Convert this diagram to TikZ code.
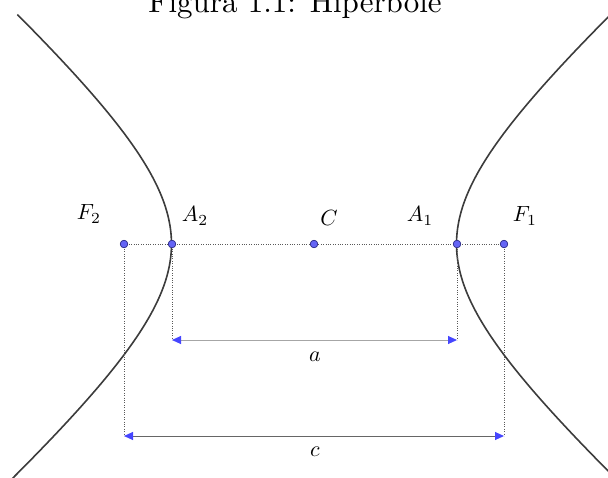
\documentclass[tikz,border=0pt]{standalone}
\usetikzlibrary{arrows.meta}
\definecolor{ptfill}{RGB}{100,100,245}
\definecolor{ptedge}{RGB}{50,50,140}
\definecolor{tipblue}{RGB}{70,70,255}
\definecolor{curve}{RGB}{60,60,60}
\tikzset{
  pt/.style={circle, fill=ptfill, draw=ptedge, line width=0.6pt, inner sep=0pt, minimum size=7.5pt},
  lbl/.style={scale=2.2, transform shape, inner sep=0pt},
  guide/.style={draw=black!65, line width=1pt, dash pattern=on 1pt off 1.4pt},
  dim/.style={line width=1pt, {Triangle[length=9pt,width=8pt,color=tipblue]}-{Triangle[length=9pt,width=8pt,color=tipblue]}},
  hyp/.style={draw=curve, line width=1.6pt}
}
\begin{document}
\begin{tikzpicture}[x=1pt,y=-1pt]
\useasboundingbox (0,0) rectangle (608,477);
\clip (0,0) rectangle (608,477);
% title (cut off by the top edge)
\node[scale=3.1, transform shape, anchor=base, inner sep=0pt] (title) at (295,12) {Figura 1.1: Hip\'erbole};
% hyperbola branches
\draw[hyp] plot[domain=-1.363:1.42, samples=80, smooth, variable=\t] ({314-142.5*cosh(\t)},{244+125.7*sinh(\t)});
\draw[hyp] plot[domain=-1.42:1.42, samples=80, smooth, variable=\t] ({314+142.5*cosh(\t)},{244+125.7*sinh(\t)});
% dimension coordinates
\coordinate (aL) at (172,340);
\coordinate (aR) at (457,340);
\coordinate (cL) at (124,436);
\coordinate (cR) at (504,436);
% points
\node[pt] (F2) at (124,244) {};
\node[pt] (A2) at (172,244) {};
\node[pt] (C) at (314,244) {};
\node[pt] (A1) at (457,244) {};
\node[pt] (F1) at (504,244) {};
% guides
\draw[guide] (F2.center) -- (A2.center) -- (C.center) -- (A1.center) -- (F1.center);
\draw[guide] (F2.center) -- (cL);
\draw[guide] (F1.center) -- (cR);
\draw[guide] (A2.center) -- (aL);
\draw[guide] (A1.center) -- (aR);
% redraw points on top
\node[pt] at (F2) {};
\node[pt] at (A2) {};
\node[pt] at (C) {};
\node[pt] at (A1) {};
\node[pt] at (F1) {};
% dimension arrows
\draw[dim, draw=black!35] (aL) -- (aR);
\draw[dim, draw=black!60] (cL) -- (cR);
% labels
\node[lbl] (lF2) at (89,214) {$F_2$};
\node[lbl] (lA2) at (195,216) {$A_2$};
\node[lbl] (lC) at (329,218) {$C$};
\node[lbl] (lA1) at (420,216) {$A_1$};
\node[lbl] (lF1) at (525,216) {$F_1$};
\node[lbl] (la) at (315,357) {$a$};
\node[lbl] (lc) at (315,452) {$c$};
\end{tikzpicture}
\end{document}
